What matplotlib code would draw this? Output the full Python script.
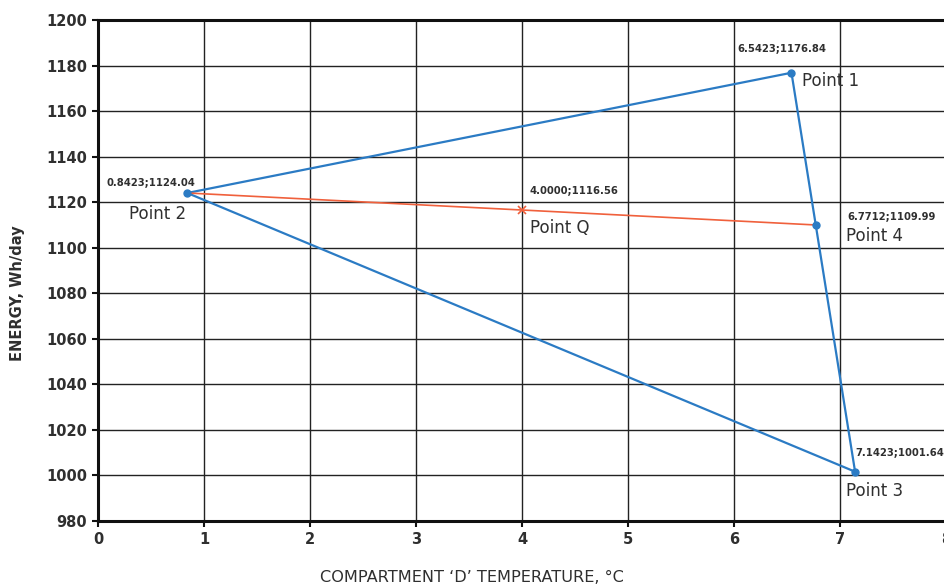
import matplotlib
matplotlib.use("Agg")
import matplotlib.pyplot as plt

plt.rcParams['font.family'] = ['DejaVu Sans']

# Data
tri_names = ["Point 1", "Point 2", "Point 3"]
tri_x = [6.5423, 0.8423, 7.1423]
tri_y = [1176.84, 1124.04, 1001.64]
p4_name = "Point 4"
p4_x, p4_y = 6.7712, 1109.99
q_name = "Point Q"
q_x, q_y = 4.0000, 1116.56
x_ticks = [0, 1, 2, 3, 4, 5, 6, 7, 8]
y_ticks = [980, 1000, 1020, 1040, 1060, 1080, 1100, 1120, 1140, 1160, 1180, 1200]

BLUE = "#2b7bc4"
RED = "#f0603c"
TXT = "#2f2f2f"

fig = plt.figure(figsize=(9.44, 5.86), dpi=100)
ax = fig.add_axes([98/944, 1-521/586, 848/944, 501/586])
ax.set_xlim(0, 8)
ax.set_ylim(980, 1200)
ax.set_xticks(x_ticks)
ax.set_yticks(y_ticks)
ax.grid(True, color="#222222", linewidth=1.0)
ax.set_axisbelow(True)
for s in ["left", "bottom", "top"]:
    ax.spines[s].set_linewidth(2.2)
    ax.spines[s].set_color("#111111")
ax.spines["right"].set_visible(False)
ax.tick_params(axis="both", direction="out", length=4, width=1.5, color="#111111",
               labelsize=10.5, labelcolor=TXT, pad=4)
for lab in ax.get_xticklabels() + ax.get_yticklabels():
    lab.set_fontweight("bold")

# triangle
ax.plot(tri_x + [tri_x[0]], tri_y + [tri_y[0]], color=BLUE, linewidth=1.6, zorder=3)
ax.plot(tri_x, tri_y, "o", color=BLUE, markersize=5, zorder=4)
# red line through Q
ax.plot([tri_x[1], q_x, p4_x], [tri_y[1], q_y, p4_y], color=RED, linewidth=1.2, zorder=3)
ax.plot([q_x], [q_y], "x", color=RED, markersize=6, mew=1.2, zorder=4)
ax.plot([p4_x], [p4_y], "o", color=BLUE, markersize=5, zorder=4)

small = dict(fontsize=7.2, fontweight="bold", color=TXT, textcoords="offset pixels",
             va="center", ha="left")
big = dict(fontsize=12, color=TXT, textcoords="offset pixels", va="center", ha="left")

# coordinate labels
ax.annotate(f"{tri_x[0]:.4f};{tri_y[0]:.2f}", (tri_x[0], tri_y[0]), xytext=(-54, 24), **small)
ax.annotate(f"{tri_x[1]:.4f};{tri_y[1]:.2f}", (tri_x[1], tri_y[1]), xytext=(-81, 10), **small)
ax.annotate(f"{tri_x[2]:.4f};{tri_y[2]:.2f}", (tri_x[2], tri_y[2]), xytext=(0, 19), **small)
ax.annotate(f"{p4_x:.4f};{p4_y:.2f}", (p4_x, p4_y), xytext=(32, 8), **small)
ax.annotate(f"{q_x:.4f};{q_y:.2f}", (q_x, q_y), xytext=(7, 19), **small)

# point names
ax.annotate(tri_names[0], (tri_x[0], tri_y[0]), xytext=(11, -8), **big)
ax.annotate(tri_names[1], (tri_x[1], tri_y[1]), xytext=(-58, -21), **big)
ax.annotate(tri_names[2], (tri_x[2], tri_y[2]), xytext=(-9, -19), **big)
ax.annotate(p4_name, (p4_x, p4_y), xytext=(30, -11), **big)
ax.annotate(q_name, (q_x, q_y), xytext=(8, -18), **big)

fig.text(18/944, 1-293/586, "ENERGY, Wh/day", rotation=90, ha="center", va="center",
         fontsize=10.5, fontweight="bold", color=TXT)
fig.text(472/944, 1-578/586, "COMPARTMENT \u2018D\u2019 TEMPERATURE, \u00b0C", ha="center",
         va="center", fontsize=11.6, color=TXT)

fig.savefig("out.png", dpi=100)
